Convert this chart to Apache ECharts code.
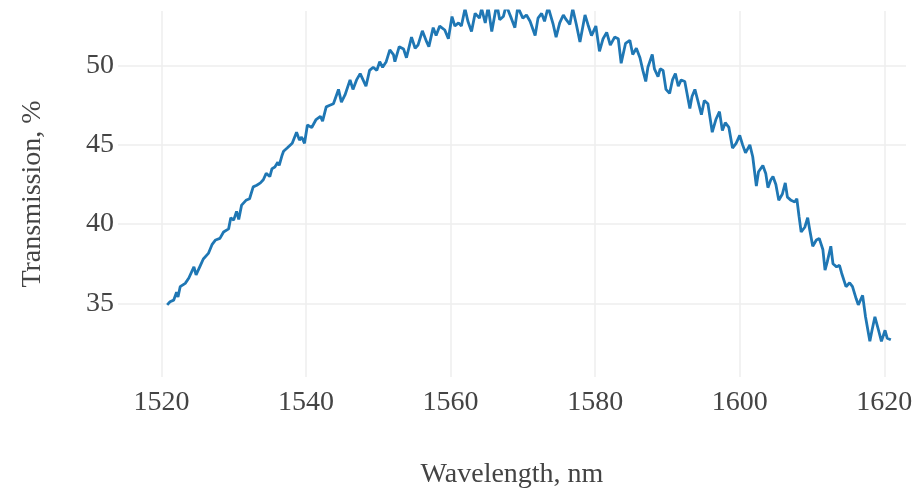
<!DOCTYPE html>
<html>
<head>
<meta charset="utf-8">
<script src="https://cdn.jsdelivr.net/npm/echarts@6/dist/echarts.min.js"></script>
<style>
  html, body { margin: 0; padding: 0; background: #fff; }
  #chart { width: 921px; height: 490px; }
</style>
</head>
<body>
<div id="chart"></div>
<script>
// Measured transmission spectrum
const wavelength = [
  1520.8, 1521.2, 1521.7, 1522.1, 1522.3, 1522.6, 1523.3, 1523.8, 1524.5, 1524.8,
  1525.4, 1525.8, 1526.5, 1527.0, 1527.5, 1528.1, 1528.6, 1529.3, 1529.6, 1530.0,
  1530.4, 1530.7, 1531.1, 1531.7, 1532.2, 1532.7, 1533.2, 1533.7, 1534.1, 1534.5,
  1535.0, 1535.3, 1535.7, 1536.1, 1536.3, 1536.7, 1536.9, 1537.4, 1538.1, 1538.7,
  1539.1, 1539.4, 1539.8, 1540.2, 1540.8, 1541.4, 1542.0, 1542.3, 1542.8, 1543.3,
  1543.8, 1544.5, 1544.9, 1545.4, 1546.1, 1546.5, 1547.0, 1547.5, 1547.9, 1548.3,
  1548.8, 1549.3, 1549.8, 1550.2, 1550.6, 1551.1, 1551.6, 1552.1, 1552.3, 1552.9,
  1553.5, 1553.9, 1554.6, 1555.1, 1555.5, 1556.1, 1556.7, 1557.0, 1557.6, 1558.0,
  1558.5, 1559.2, 1559.7, 1560.2, 1560.6, 1561.1, 1561.5, 1562.0, 1562.4, 1562.9,
  1563.4, 1564.0, 1564.3, 1564.8, 1565.2, 1565.7, 1566.4, 1566.8, 1567.3, 1567.7,
  1568.4, 1568.9, 1569.3, 1570.0, 1570.5, 1571.0, 1571.7, 1572.1, 1572.6, 1573.0,
  1573.5, 1574.2, 1574.6, 1575.1, 1575.6, 1576.0, 1576.5, 1576.9, 1577.4, 1577.9,
  1578.6, 1579.0, 1579.5, 1580.1, 1580.6, 1581.1, 1581.6, 1582.1, 1582.7, 1583.2,
  1583.6, 1584.2, 1584.8, 1585.2, 1585.7, 1586.2, 1586.6, 1587.0, 1587.3, 1587.9,
  1588.2, 1588.7, 1589.0, 1589.4, 1589.8, 1590.3, 1590.7, 1591.1, 1591.5, 1591.9,
  1592.4, 1593.1, 1593.4, 1593.8, 1594.2, 1594.7, 1595.1, 1595.6, 1596.2, 1596.7,
  1597.2, 1597.6, 1598.0, 1598.5, 1599.0, 1599.5, 1600.0, 1600.4, 1600.8, 1601.4,
  1601.8, 1602.3, 1602.6, 1603.2, 1603.6, 1603.9, 1604.3, 1604.6, 1605.0, 1605.4,
  1605.9, 1606.3, 1606.6, 1607.1, 1607.6, 1607.9, 1608.2, 1608.5, 1609.0, 1609.4,
  1609.7, 1610.1, 1610.6, 1611.0, 1611.5, 1611.8, 1612.1, 1612.6, 1612.9, 1613.4,
  1613.8, 1614.1, 1614.7, 1615.2, 1615.6, 1616.1, 1616.4, 1617.0, 1617.4, 1618.0,
  1618.3, 1618.7, 1619.2, 1619.6, 1620.1, 1620.4, 1620.9
];
const transmission = [
  34.9, 35.1, 35.2, 35.7, 35.4, 36.05, 36.26, 36.6, 37.3, 36.8,
  37.4, 37.8, 38.15, 38.7, 39.0, 39.1, 39.5, 39.7, 40.4, 40.25,
  40.8, 40.3, 41.2, 41.5, 41.6, 42.35, 42.45, 42.6, 42.8, 43.2,
  43.0, 43.5, 43.6, 43.9, 43.7, 44.35, 44.6, 44.8, 45.1, 45.8,
  45.3, 45.5, 45.1, 46.25, 46.1, 46.6, 46.8, 46.5, 47.4, 47.5,
  47.6, 48.5, 47.7, 48.15, 49.1, 48.5, 49.1, 49.5, 49.1, 48.7,
  49.7, 49.9, 49.7, 50.25, 49.9, 50.25, 51.0, 50.7, 50.25, 51.2,
  51.05, 50.5, 51.8, 51.1, 51.3, 52.2, 51.5, 51.2, 52.4, 51.9,
  52.5, 52.25, 51.7, 53.1, 52.5, 52.7, 52.5, 53.6, 52.8, 52.15,
  53.3, 53.0, 53.6, 52.7, 53.7, 52.15, 53.9, 52.9, 53.1, 53.8,
  53.0, 52.4, 53.7, 53.0, 53.2, 52.8, 51.9, 53.0, 53.3, 52.8,
  53.7, 52.6, 51.8, 52.7, 53.2, 52.9, 52.6, 53.6, 52.6, 51.5,
  53.2, 52.6, 51.9, 52.5, 50.9, 51.7, 52.1, 51.3, 51.8, 51.7,
  50.15, 51.4, 51.6, 50.7, 51.1, 50.5, 49.7, 49.0, 49.9, 50.7,
  49.8, 49.3, 49.8, 49.7, 48.5, 48.25, 49.1, 49.5, 48.7, 49.1,
  49.0, 47.3, 48.05, 48.5, 47.8, 46.9, 47.8, 47.6, 45.8, 46.6,
  47.1, 45.9, 46.4, 46.1, 44.8, 45.1, 45.6, 45.0, 44.5, 45.0,
  44.25, 42.4, 43.3, 43.7, 43.2, 42.3, 42.8, 43.0, 42.5, 41.5,
  41.9, 42.6, 41.7, 41.5, 41.4, 41.6, 40.5, 39.5, 39.8, 40.4,
  39.6, 38.6, 39.0, 39.1, 38.4, 37.1, 37.6, 38.6, 37.5, 37.3,
  37.4, 36.9, 36.05, 36.3, 36.05, 35.3, 34.9, 35.5, 34.15, 32.6,
  33.3, 34.15, 33.3, 32.6, 33.3, 32.8, 32.7
];

// Axis tick positions
const xTicks = [1520, 1540, 1560, 1580, 1600, 1620];
const yTicks = [35, 40, 45, 50];

const points = wavelength.map((w, i) => [w, transmission[i]]);

const chart = echarts.init(document.getElementById('chart'), null, { renderer: 'canvas' });

const fontFamily = '"Liberation Serif", "Times New Roman", serif';
const plain = (v) => String(v);

chart.setOption({
  backgroundColor: '#ffffff',
  animation: false,
  grid: {
    left: 118, right: 15, top: 11, bottom: 113,
    containLabel: false,
    outerBoundsMode: 'none'
  },
  xAxis: {
    type: 'value',
    min: 1514,
    max: 1623,
    name: 'Wavelength, nm',
    nameLocation: 'middle',
    nameGap: 84,
    nameTextStyle: { fontFamily, fontSize: 28, color: '#444' },
    axisLine: { show: false },
    axisTick: { show: false, customValues: xTicks },
    axisLabel: { customValues: xTicks, formatter: plain, fontFamily, fontSize: 28, color: '#444', margin: 12 },
    splitLine: { show: true, lineStyle: { color: '#eeeeee', width: 1.5 } }
  },
  yAxis: {
    type: 'value',
    min: 30.35,
    max: 53.45,
    name: 'Transmission, %',
    nameLocation: 'middle',
    nameGap: 71,
    nameTextStyle: { fontFamily, fontSize: 28, color: '#444' },
    axisLine: { show: false },
    axisTick: { show: false, customValues: yTicks },
    axisLabel: { customValues: yTicks, formatter: plain, fontFamily, fontSize: 28, color: '#444', margin: 4 },
    splitLine: { show: true, lineStyle: { color: '#eeeeee', width: 1.5 } }
  },
  series: [{
    type: 'line',
    data: points,
    showSymbol: false,
    clip: true,
    lineStyle: { color: '#1f77b4', width: 2.8 }
  }]
});
</script>
</body>
</html>
